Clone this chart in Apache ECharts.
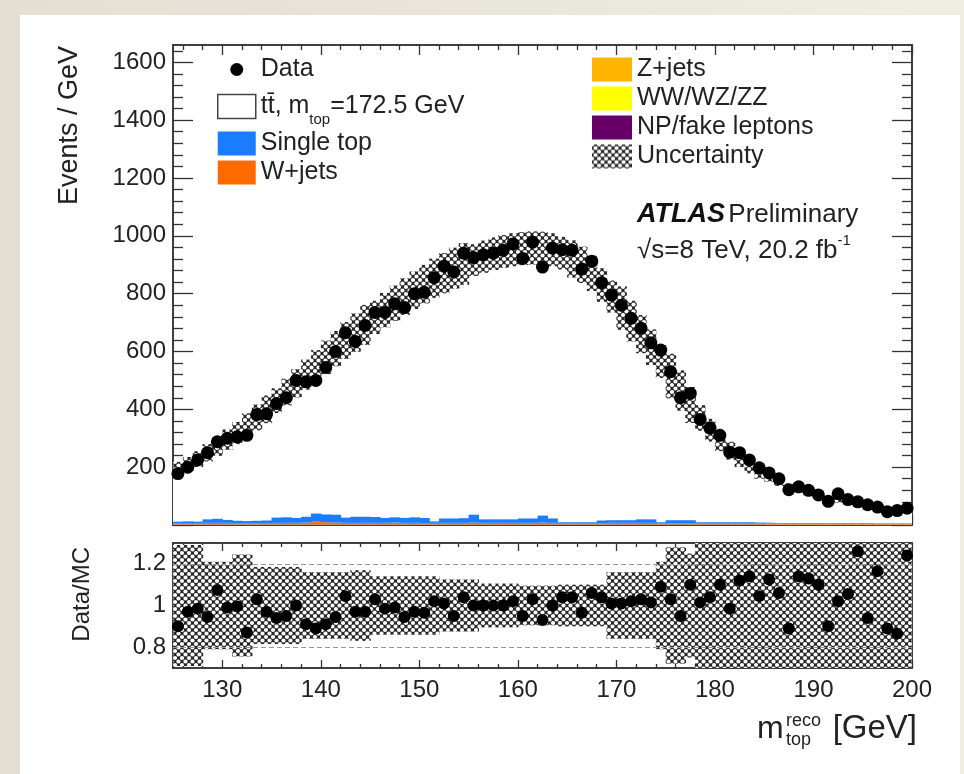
<!DOCTYPE html>
<html><head><meta charset="utf-8">
<script src="https://cdn.jsdelivr.net/npm/echarts@6/dist/echarts.min.js"></script>
<style>
html,body{margin:0;padding:0;}
body{background:linear-gradient(90deg,#e3dfd1 0%,#e9e5d9 50%,#f0ede5 100%);}
#c{width:964px;height:774px;}
</style>
</head><body><div id="c"></div>
<script>
// ---------- DATA ----------
const binLow = [125,126,127,128,129,130,131,132,133,134,135,136,137,138,139,140,141,142,143,144,145,146,147,148,149,150,151,152,153,154,155,156,157,158,159,160,161,162,163,164,165,166,167,168,169,170,171,172,173,174,175,176,177,178,179,180,181,182,183,184,185,186,187,188,189,190,191,192,193,194,195,196,197,198,199];
const binHigh = 200;
const dataValues = [178,200,225,250,288,300,305,310,382,385,420,440,500,495,500,545,600,665,635,690,735,735,765,752,800,805,855,895,875,940,925,935,940,950,972,922,978,892,958,952,950,885,912,838,795,760,715,680,630,605,530,440,455,365,335,310,252,250,225,198,180,160,122,132,120,104,82,108,88,80,70,62,46,50,58];
const mcTotal = [195,210,228,250,272,295,318,345,372,400,430,460,490,520,550,580,610,638,665,692,718,743,767,790,812,833,853,871,888,903,916,928,938,946,952,956,958,957,952,940,920,900,870,830,790,750,705,660,615,565,515,465,415,370,328,290,257,228,203,182,163,147,133,120,109,99,91,84,78,72,67,62,58,54,50];
const singleTop = [5,6,5,12,14,10,8,7,8,9,18,19,17,20,28,27,27,18,21,21,20,17,18,17,19,18,5,15,15,16,27,12,12,12,12,15,15,24,15,3,3,3,3,9,9,9,9,12,12,3,10,10,10,3,3,3,3,3,3,3,3,2,2,2,2,2,2,2,2,2,2,1,1,1,1];
const wJets = [3,3,3,4,4,4,3,3,3,3,4,4,4,5,8,6,5,4,4,4,4,4,5,4,4,3,4,4,4,4,5,4,4,4,4,4,4,5,4,3,3,3,3,3,4,4,4,4,4,3,3,3,3,3,3,3,3,3,3,2,2,2,2,2,2,2,2,2,2,2,2,2,2,2,2];
const zJets = [1,1,1,1,1,1,1,1,1,1,1,1,1,1,1,1,1,1,1,1,1,1,1,1,1,1,1,1,1,1,1,1,1,1,1,1,1,1,1,1,1,1,1,1,1,1,1,1,1,1,1,1,1,1,1,1,1,1,1,1,1,1,1,1,1,1,1,1,1,1,1,1,1,1,1];
const diboson = [0.5,0.5,0.5,0.5,0.5,0.5,0.5,0.5,0.5,0.5,0.5,0.5,0.5,0.5,0.5,0.5,0.5,0.5,0.5,0.5,0.5,0.5,0.5,0.5,0.5,0.5,0.5,0.5,0.5,0.5,0.5,0.5,0.5,0.5,0.5,0.5,0.5,0.5,0.5,0.5,0.5,0.5,0.5,0.5,0.5,0.5,0.5,0.5,0.5,0.5,0.5,0.5,0.5,0.5,0.5,0.5,0.5,0.5,0.5,0.5,0.5,0.5,0.5,0.5,0.5,0.5,0.5,0.5,0.5,0.5,0.5,0.5,0.5,0.5,0.5];
const fakeLep = [2,2,2,2,2,2,2,2,2,2,2,2,2,2,2,2,2,2,2,2,2,2,2,2,2,2,2,2,2,2,2,2,2,2,2,2,2,2,2,2,2,2,2,2,2,2,2,2,2,2,2,2,2,2,2,2,2,2,2,2,1.5,1.5,1.5,1.5,1.5,1.5,1.5,1.5,1.5,1.5,1.5,1.5,1.5,1.5,1.5];
const uncTop = [0.12,0.12,0.12,0.12,0.12,0.12,0.12,0.12,0.12,0.12,0.10,0.10,0.10,0.10,0.10,0.10,0.10,0.10,0.10,0.10,0.08,0.08,0.08,0.08,0.08,0.08,0.08,0.08,0.08,0.08,0.06,0.06,0.06,0.06,0.06,0.06,0.06,0.06,0.06,0.06,0.07,0.07,0.07,0.07,0.07,0.10,0.10,0.10,0.10,0.10,0.15,0.15,0.15,0.12,0.12,0.12,0.12,0.12,0.12,0.12,0.08,0.08,0.08,0.08,0.08,0.08,0.08,0.08,0.08,0.08,0.08,0.08,0.08,0.08,0.08];
const ratioValues = [0.90,0.97,0.985,0.945,1.075,0.99,0.995,0.87,1.03,0.97,0.94,0.95,1.00,0.91,0.89,0.91,0.945,1.045,0.97,0.97,1.03,0.985,0.99,0.945,0.97,0.965,1.02,1.01,0.95,1.04,1.00,1.00,1.00,1.00,1.02,0.95,1.03,0.93,1.00,1.04,1.04,0.965,1.06,1.04,1.01,1.01,1.02,1.03,1.015,1.09,1.03,0.95,1.10,1.015,1.04,1.10,0.985,1.12,1.14,1.045,1.125,1.06,0.89,1.14,1.13,1.10,0.90,1.02,1.055,1.26,0.94,1.165,0.89,0.865,1.24];
const uncRatio = [0.29,0.29,0.29,0.21,0.21,0.21,0.245,0.245,0.185,0.185,0.185,0.185,0.185,0.16,0.16,0.16,0.16,0.16,0.17,0.17,0.14,0.14,0.14,0.14,0.14,0.14,0.14,0.125,0.125,0.125,0.125,0.105,0.105,0.105,0.105,0.095,0.095,0.095,0.095,0.10,0.10,0.10,0.10,0.10,0.16,0.16,0.16,0.16,0.16,0.21,0.28,0.28,0.25,0.35,0.35,0.35,0.35,0.35,0.35,0.35,0.35,0.35,0.35,0.35,0.35,0.35,0.35,0.35,0.35,0.35,0.35,0.35,0.35,0.35,0.35];
const xMajorTicks = [130,140,150,160,170,180,190,200];
const xLabels = [130,140,150,160,170,180,190,200];
const yMajorTicks = [0,200,400,600,800,1000,1200,1400,1600];
const yLabels = [200,400,600,800,1000,1200,1400,1600];
const rMajorTicks = [0.8,1.0,1.2];
const rMinorTicks = [0.75,0.85,0.9,0.95,1.05,1.1,1.15,1.25];
const rLabels = [0.8,1,1.2];
const TT = 'tt\u0304, m_top=172.5 GeV';

// ---------- helpers ----------
const FONT = '"Liberation Sans", Arial, Helvetica, sans-serif';
const xMinorTicks = []; for (let v = 126; v < 200; v += 2) if (v % 10) xMinorTicks.push(v);
const yMinorTicks = []; for (let v = 40; v <= 1640; v += 40) if (v % 200) yMinorTicks.push(v);

function makePattern(){
  const s = 7, r = 2.1;
  const c = document.createElement('canvas'); c.width = s; c.height = s;
  const g = c.getContext('2d');
  g.fillStyle = '#262626'; g.fillRect(0,0,s,s);
  g.fillStyle = '#ffffff';
  [[s/2,s/2],[0,0],[s,0],[0,s],[s,s]].forEach(p => { g.beginPath(); g.arc(p[0],p[1],r,0,Math.PI*2); g.fill(); });
  return c;
}
const pat = {image: makePattern(), repeat: 'repeat'};

function stepData(vals){ const d = binLow.map((x,i)=>[x, vals[i]]); d.push([binHigh, vals[vals.length-1]]); return d; }
const centers = binLow.map(x => x + 0.5);
const binUp = binLow.map((x,i)=> i+1 < binLow.length ? binLow[i+1] : binHigh);

// stacked background cumulative bounds
const stackOrder = [fakeLep, diboson, zJets, wJets, singleTop];
const cumul = [];
let run = binLow.map(()=>0);
stackOrder.forEach(arr => { const lo = run.slice(); run = run.map((v,i)=>v+arr[i]); cumul.push([lo, run.slice()]); });

const topLo = mcTotal.map((v,i)=>v*(1-uncTop[i]));
const topHi = mcTotal.map((v,i)=>v*(1+uncTop[i]));
const rLo = uncRatio.map(u=>1-u);
const rHi = uncRatio.map(u=>1+u);

function binRects(name, xi, yi, lo, hi, fill, z){
  return {name, type:'custom', xAxisIndex:xi, yAxisIndex:yi, z, silent:true,
    data: binLow.map((x,i)=>[x, binUp[i], lo[i], hi[i]]),
    encode:{x:[0,1], y:[2,3]},
    renderItem:(params, api)=>{
      const p0 = api.coord([api.value(0), api.value(3)]);
      const p1 = api.coord([api.value(1), api.value(2)]);
      const cs = params.coordSys;
      const rect = echarts.graphic.clipRectByRect(
        {x:p0[0], y:p0[1], width:p1[0]-p0[0]+0.6, height:p1[1]-p0[1]},
        {x:cs.x, y:cs.y, width:cs.width, height:cs.height});
      return rect && {type:'rect', shape:rect, style:{fill:fill}};
    }};
}

const AX = '#333';
function xAx(grid, pos, ticks, len, labels){
  return {type:'value', gridIndex:grid, position:pos, min:125, max:200,
    axisLine:{show:true, onZero:false, lineStyle:{color:AX, width:1.5}},
    axisTick:{show:true, inside:true, length:len, customValues:ticks, lineStyle:{color:AX, width:1.3}},
    axisLabel: labels ? {show:true, customValues:labels, margin:10, fontSize:24, fontFamily:FONT, color:'#222', formatter:v=>String(v)} : {show:false},
    splitLine:{show:false}};
}
function yAx(grid, pos, min, max, ticks, len, labels){
  return {type:'value', gridIndex:grid, position:pos, min:min, max:max,
    axisLine:{show:true, onZero:false, lineStyle:{color:AX, width:1.5}},
    axisTick:{show:true, inside:true, length:len, customValues:ticks, lineStyle:{color:AX, width:1.3}},
    axisLabel: labels ? {show:true, customValues:labels, margin:7, fontSize:24, fontFamily:FONT, color:'#222', formatter:v=>String(v)} : {show:false},
    splitLine:{show:false}};
}

const chart = echarts.init(document.getElementById('c'), null, {renderer:'canvas'});
chart.setOption({
  animation:false,
  backgroundColor:'transparent',
  grid:[
    {left:173, top:45, width:739, height:480},
    {left:173, top:543, width:739, height:125}
  ],
  xAxis:[
    xAx(0,'bottom',xMajorTicks,10,null),
    xAx(0,'top',xMajorTicks,10,null),
    xAx(0,'bottom',xMinorTicks,5,null),
    xAx(0,'top',xMinorTicks,5,null),
    xAx(1,'bottom',xMajorTicks,8,xLabels),
    xAx(1,'top',xMajorTicks,8,null),
    xAx(1,'bottom',xMinorTicks,4,null),
    xAx(1,'top',xMinorTicks,4,null)
  ],
  yAxis:[
    yAx(0,'left',0,1660,yMajorTicks,20,yLabels),
    yAx(0,'right',0,1660,yMajorTicks,20,null),
    yAx(0,'left',0,1660,yMinorTicks,10,null),
    yAx(0,'right',0,1660,yMinorTicks,10,null),
    yAx(1,'left',0.7,1.3,rMajorTicks,20,rLabels),
    yAx(1,'right',0.7,1.3,rMajorTicks,20,null),
    yAx(1,'left',0.7,1.3,rMinorTicks,10,null),
    yAx(1,'right',0.7,1.3,rMinorTicks,10,null)
  ],
  legend:[
    {left:217, top:57, orient:'vertical', itemWidth:38, itemHeight:24, itemGap:4, padding:0, selectedMode:false,
     textStyle:{fontSize:25, fontFamily:FONT, color:'#222', rich:{sub:{fontSize:15, fontFamily:FONT, color:'#222', lineHeight:20, padding:[26,0,0,0]}}},
     formatter: n => n === TT ? 'tt\u0304, m{sub|top}=172.5 GeV' : n,
     data:[
       {name:'Data', icon:'path://M0,0L0,0M38,24L38,24M12.5,12a6.5,6.5 0 1,0 13,0a6.5,6.5 0 1,0 -13,0', itemStyle:{color:'#000'}},
       {name:TT, icon:'rect', itemStyle:{color:'#fff', borderColor:'#444', borderWidth:1.5}},
       {name:'Single top', icon:'rect', itemStyle:{color:'#1a7cff'}},
       {name:'W+jets', icon:'rect', itemStyle:{color:'#ff6a00'}}
     ]},
    {left:592, top:57, orient:'vertical', itemWidth:40, itemHeight:24, itemGap:4, padding:0, selectedMode:false,
     textStyle:{fontSize:25, fontFamily:FONT, color:'#222'},
     data:[
       {name:'Z+jets', icon:'rect', itemStyle:{color:'#ffb400'}},
       {name:'WW/WZ/ZZ', icon:'rect', itemStyle:{color:'#ffff00'}},
       {name:'NP/fake leptons', icon:'rect', itemStyle:{color:'#660066'}},
       {name:'Uncertainty', icon:'rect', itemStyle:{color:pat}}
     ]}
  ],
  graphic:[
    {type:'rect', z:-100, shape:{x:20, y:15, width:940, height:760}, style:{fill:'#fff'}, silent:true},
    {type:'text', x:70, y:46, rotation:Math.PI/2, style:{text:'Events / GeV', font:'27px '+FONT, fill:'#222', align:'right', verticalAlign:'middle'}},
    {type:'text', x:82, y:547, rotation:Math.PI/2, style:{text:'Data/MC', font:'24px '+FONT, fill:'#222', align:'right', verticalAlign:'middle'}},
    {type:'text', x:637, y:215, style:{text:'{b|ATLAS} {r|Preliminary}', verticalAlign:'middle', rich:{
        b:{fontFamily:FONT, fontSize:27, fontWeight:'bold', fontStyle:'italic', fill:'#111'},
        r:{fontFamily:FONT, fontSize:26, fill:'#222'}}}},
    {type:'text', x:637, y:251, style:{text:'{r|\u221As=8 TeV, 20.2 fb}{sup|-1}', verticalAlign:'middle', rich:{
        r:{fontFamily:FONT, fontSize:26, fill:'#222'},
        sup:{fontFamily:FONT, fontSize:15, fill:'#222', lineHeight:18, padding:[0,0,20,0]}}}},
    {type:'text', x:757, y:729, style:{text:'m', font:'32px '+FONT, fill:'#222', align:'left', verticalAlign:'middle'}},
    {type:'text', x:786, y:721, style:{text:'reco', font:'18px '+FONT, fill:'#222', align:'left', verticalAlign:'middle'}},
    {type:'text', x:786, y:740, style:{text:'top', font:'18px '+FONT, fill:'#222', align:'left', verticalAlign:'middle'}},
    {type:'text', x:917, y:729, style:{text:'[GeV]', font:'33px '+FONT, fill:'#222', align:'right', verticalAlign:'middle'}}
  ],
  series:[
    {name:TT, type:'line', xAxisIndex:0, yAxisIndex:0, step:'end', data:stepData(mcTotal), showSymbol:false,
     lineStyle:{color:'#222', width:1}, areaStyle:{color:'#fff', opacity:1}, z:1, silent:true},
    binRects('NP/fake leptons', 0, 0, cumul[0][0], cumul[0][1], '#660066', 2),
    binRects('WW/WZ/ZZ', 0, 0, cumul[1][0], cumul[1][1], '#ffff00', 2),
    binRects('Z+jets', 0, 0, cumul[2][0], cumul[2][1], '#ffb400', 2),
    binRects('W+jets', 0, 0, cumul[3][0], cumul[3][1], '#ff6a00', 2),
    binRects('Single top', 0, 0, cumul[4][0], cumul[4][1], '#1a7cff', 2),
    binRects('Uncertainty', 0, 0, topLo, topHi, pat, 3),
    {name:'Data', type:'scatter', xAxisIndex:0, yAxisIndex:0, data:centers.map((x,i)=>[x,dataValues[i]]),
     symbol:'circle', symbolSize:13, itemStyle:{color:'#000', opacity:1}, z:5, silent:true},
    // ratio panel
    {name:'refLines', type:'line', xAxisIndex:4, yAxisIndex:4, data:[], z:1, silent:true,
     markLine:{silent:true, symbol:'none', label:{show:false}, lineStyle:{color:'#999', type:[5,3], width:1},
       data:[{yAxis:1.2},{yAxis:0.8}]}},
    binRects('rBand', 4, 4, rLo, rHi, pat, 3),
    {name:'ratio', type:'scatter', xAxisIndex:4, yAxisIndex:4, data:centers.map((x,i)=>[x,ratioValues[i]]),
     symbol:'circle', symbolSize:12, itemStyle:{color:'#000', opacity:1}, z:5, silent:true}
  ]
});
</script>
</body></html>
